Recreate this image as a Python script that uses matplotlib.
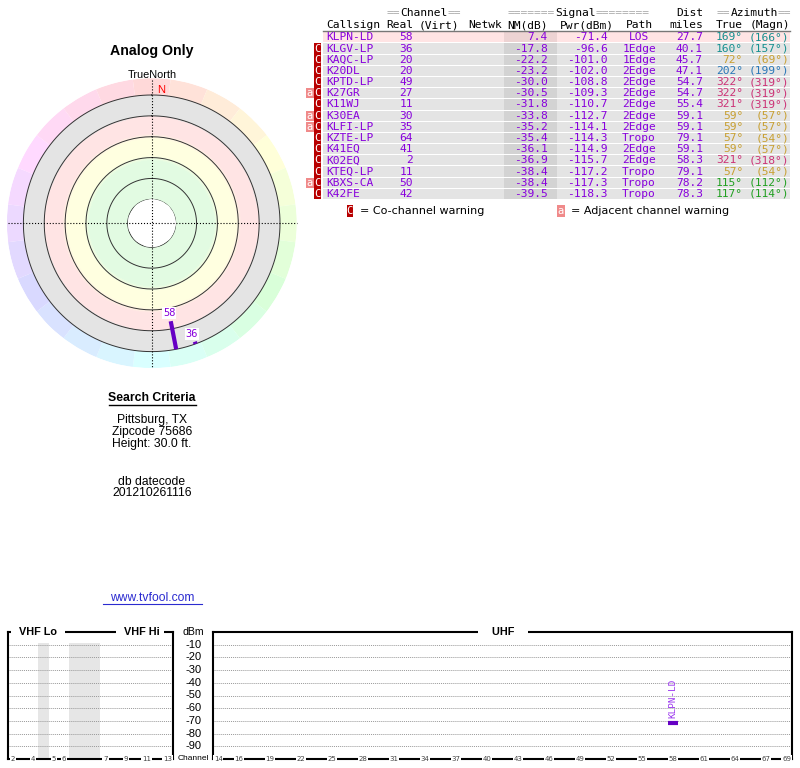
import colorsys
import numpy as np
import matplotlib.pyplot as plt
from matplotlib.colors import LinearSegmentedColormap, Normalize
from matplotlib.patches import Rectangle

# station table
callsigns = ["KLPN-LD", "KLGV-LP", "KAQC-LP", "K20DL", "KPTD-LP", "K27GR", "K11WJ", "K30EA",
             "KLFI-LP", "KZTE-LP", "K41EQ", "K02EQ", "KTEQ-LP", "KBXS-CA", "K42FE"]
real_ch = [58, 36, 20, 20, 49, 27, 11, 30, 35, 64, 41, 2, 11, 50, 42]
nm_db = [7.4, -17.8, -22.2, -23.2, -30.0, -30.5, -31.8, -33.8, -35.2, -35.4, -36.1, -36.9, -38.4, -38.4, -39.5]
pwr_dbm = [-71.4, -96.6, -101.0, -102.0, -108.8, -109.3, -110.7, -112.7, -114.1, -114.3, -114.9,
           -115.7, -117.2, -117.3, -118.3]
paths = ["LOS", "1Edge", "1Edge", "2Edge", "2Edge", "2Edge", "2Edge", "2Edge", "2Edge", "Tropo",
         "2Edge", "2Edge", "Tropo", "Tropo", "Tropo"]
dist_mi = [27.7, 40.1, 45.7, 47.1, 54.7, 54.7, 55.4, 59.1, 59.1, 79.1, 59.1, 58.3, 79.1, 78.2, 78.3]
az_true = [169, 160, 72, 202, 322, 322, 321, 59, 59, 57, 59, 321, 57, 115, 117]
az_magn = [166, 157, 69, 199, 319, 319, 319, 57, 57, 54, 57, 318, 54, 112, 114]
co_chan = [False] + [True] * 14
adj_chan = [False, False, False, False, False, True, False, True, True, False, False, False, False, True, False]

vhf_labels = [2, 4, 5, 6, 7, 9, 11, 13]
uhf_labels = [14, 16, 19, 22, 25, 28, 31, 34, 37, 40, 43, 46, 49, 52, 55, 58, 61, 64, 67, 69]
dbm_ticks = [-10, -20, -30, -40, -50, -60, -70, -80, -90]

W, H = 800, 768
PURPLE = '#8800dd'
BAR = '#6600c4'
mono = 'DejaVu Sans Mono'
sans = 'Liberation Sans'

fig = plt.figure(figsize=(8, 7.68), dpi=100)


def box(x0, y0, x1, y1):
    return [x0 / W, 1 - y1 / H, (x1 - x0) / W, (y1 - y0) / H]


def az_color(a):
    if a < 30 or a >= 300:
        return '#cc3377'
    if a < 100:
        return '#c8a032'
    if a < 150:
        return '#22a022'
    if a < 190:
        return '#169090'
    return '#2a78b8'


# pixel overlay on top of everything
pg = fig.add_axes([0, 0, 1, 1])
pg.set_xlim(0, W)
pg.set_ylim(H, 0)
pg.axis('off')
pg.set_zorder(5)

# ---- radar plot ----
cx, cy, R = 151.7, 223.3, 145
pol = fig.add_axes(box(cx - R, cy - R, cx + R, cy + R), projection='polar')
pol.set_theta_zero_location('N')
pol.set_theta_direction(-1)
pol.set_rorigin(-23)
pol.set_ylim(0, 116)
pol.axis('off')

stops = [(0, '#e2fbe2'), (37, '#e2fbe2'), (42, '#ffffe0'), (58, '#ffffe0'), (63, '#ffe4e4'),
         (79.4, '#ffe4e4'), (80.6, '#e4e4e4'), (100, '#e4e4e4')]
cmap = LinearSegmentedColormap.from_list('bands', [(s / 100, c) for s, c in stops])
th = np.linspace(0, 2 * np.pi, 181)
rg = np.linspace(0, 100, 201)
T, Rg = np.meshgrid(th, rg)
C = 0.5 * (Rg[:-1, :-1] + Rg[1:, 1:])
pol.pcolormesh(T, Rg, C, cmap=cmap, norm=Normalize(0, 100), shading='flat')

nseg = 24
for k in range(nseg):
    col = colorsys.hsv_to_rgb(k / nseg, 0.15, 1.0)
    pol.bar(np.deg2rad(k * 360 / nseg), 16, width=np.deg2rad(360 / nseg), bottom=100,
            color=col, edgecolor='none')

for r in [0, 20, 40, 60, 80, 100]:
    pol.plot(th, np.full_like(th, r), color='#333333', lw=0.7)

NM_TOP = 80
for ch, n, a in zip(real_ch, nm_db, az_true):
    if n <= -20:
        continue
    t = np.deg2rad(a)
    pol.plot([t, t], [100, NM_TOP - n], color=BAR, lw=3, solid_capstyle='butt')
    pol.text(t, NM_TOP - n - 8, str(ch), color=PURPLE, fontsize=7.5, family=mono,
             ha='center', va='center', bbox=dict(boxstyle='square,pad=0.1', fc='white', ec='none'))

# crosshair
pg.plot([cx - R + 1, cx + R], [cy, cy], ':', color='k', lw=0.8)
pg.plot([cx, cx], [cy - R + 2, cy + R], ':', color='k', lw=0.8)

pg.text(152, 51, 'Analog Only', family=sans, fontsize=10.2, fontweight='bold', ha='center', va='center')
pg.text(152, 75, 'TrueNorth', family=sans, fontsize=7.8, ha='center', va='center')
pg.text(161, 90, 'N', family=sans, fontsize=8, color='red', ha='center', va='center')

# ---- search criteria ----
pg.text(152, 398, 'Search Criteria', family=sans, fontsize=8.8, fontweight='bold', ha='center', va='center')
pg.plot([108.5, 195.5], [405, 405], color='k', lw=1)
for y, s in [(420, 'Pittsburg, TX'), (432.5, 'Zipcode 75686'), (444.5, 'Height: 30.0 ft.'),
             (482, 'db datecode'), (493.5, '201210261116')]:
    pg.text(152, y, s, family=sans, fontsize=8.7, ha='center', va='center')
pg.text(152, 598, 'www.tvfool.com', family=sans, fontsize=8.7, color='#2b2bd0', ha='center', va='center')
pg.plot([102.5, 201.5], [604, 604], color='#2b2bd0', lw=0.8)

# ---- table ----
fs = 8.1
cw = 6.77
gray_eq = '#aaaaaa'
for x, s, lead, tail in [(387, 'Channel', 2, 2), (508, 'Signal', 7, 8), (717, 'Azimuth', 2, 2)]:
    pg.text(x, 13.5, '=' * lead, family=mono, fontsize=fs, color=gray_eq, ha='left', va='center')
    pg.text(x + lead * cw, 13.5, s, family=mono, fontsize=fs, color='k', ha='left', va='center')
    pg.text(x + (lead + len(s)) * cw, 13.5, '=' * tail, family=mono, fontsize=fs, color=gray_eq,
            ha='left', va='center')
pg.text(703, 13.5, 'Dist', family=mono, fontsize=fs, ha='right', va='center')

hdr = [(326, 'Callsign', 'left'), (413, 'Real', 'right'), (419, '(Virt)', 'left'), (468, 'Netwk', 'left'),
       (548, 'NM(dB)', 'right'), (614, 'Pwr(dBm)', 'right'), (639, 'Path', 'center'),
       (703, 'miles', 'right'), (743, 'True', 'right'), (790, '(Magn)', 'right')]
for x, s, ha in hdr:
    pg.text(x, 25, s, family=mono, fontsize=fs, ha=ha, va='center')
pg.plot([323, 790], [30.5, 30.5], color='#777777', lw=1)

y0, rh = 37.4, 11.18
for i in range(len(callsigns)):
    y = y0 + i * rh
    pos = nm_db[i] > 0
    pg.add_patch(Rectangle((323, y - 5.1), 467, 10.2, fc='#ffe4e4' if pos else '#e4e4e4', ec='none'))
    pg.add_patch(Rectangle((504, y - 5.1), 53, 10.2, fc='k', alpha=0.07, ec='none'))
    if co_chan[i]:
        pg.add_patch(Rectangle((313.5, y - 5.6), 7, rh, fc='#b80000', ec='none'))
        pg.text(317, y, 'C', family=mono, fontsize=7.5, color='white', ha='center', va='center')
    if adj_chan[i]:
        pg.add_patch(Rectangle((306, y - 5), 7.5, 10, fc='#f08a8a', ec='none'))
        pg.text(309.7, y, 'a', family=mono, fontsize=7.5, color='white', ha='center', va='center')
    row = [(326, callsigns[i], 'left', PURPLE), (413, str(real_ch[i]), 'right', PURPLE),
           (548, f'{nm_db[i]:.1f}', 'right', PURPLE), (608, f'{pwr_dbm[i]:.1f}', 'right', PURPLE),
           (639, paths[i], 'center', PURPLE), (703, f'{dist_mi[i]:.1f}', 'right', PURPLE),
           (743, f'{az_true[i]}°', 'right', az_color(az_true[i])),
           (789, f'({az_magn[i]}°)', 'right', az_color(az_true[i]))]
    for x, s, ha, c in row:
        pg.text(x, y, s, family=mono, fontsize=fs, ha=ha, va='center', color=c)

# legend
pg.add_patch(Rectangle((346.5, 204.5), 6.5, 12, fc='#b80000', ec='none'))
pg.text(349.7, 210.5, 'C', family=mono, fontsize=7.5, color='white', ha='center', va='center')
pg.text(360, 210.5, '= Co-channel warning', family='DejaVu Sans', fontsize=8, ha='left', va='center')
pg.add_patch(Rectangle((557, 204.5), 7.5, 12, fc='#f08a8a', ec='none'))
pg.text(560.7, 210.5, 'a', family=mono, fontsize=7.5, color='white', ha='center', va='center')
pg.text(571, 210.5, '= Adjacent channel warning', family='DejaVu Sans', fontsize=8, ha='left', va='center')

# ---- spectrum ----
def vhf_slot(ch):
    if ch <= 4:
        return ch - 2
    if ch <= 6:
        return ch - 1
    return ch + 2


vx = fig.add_axes(box(7.5, 632, 172.5, 759))
vx.set_xlim(-0.5, 15.5)
ux = fig.add_axes(box(213, 632, 792, 759))
ux.set_xlim(13.5, 69.5)
for ax in (vx, ux):
    ax.set_ylim(-100, 0)
    ax.set_xticks([])
    ax.set_yticks([])
    for sp in ax.spines.values():
        sp.set_linewidth(1.5)
    for v in dbm_ticks:
        ax.axhline(v, color='#999999', lw=0.7, ls=(0, (1, 1)))
vx.axvspan(2.5, 3.5, ymax=0.91, color='#e6e6e6', lw=0)
vx.axvspan(5.5, 8.5, ymax=0.91, color='#e6e6e6', lw=0)

lab_box = dict(boxstyle='square,pad=0.12', fc='white', ec='none')
for ch in vhf_labels:
    vx.text(vhf_slot(ch), -100, str(ch), fontsize=5, color='#444444', family='DejaVu Sans',
            ha='center', va='center', bbox=lab_box, clip_on=False)
for ch in uhf_labels:
    ux.text(ch, -100, str(ch), fontsize=5, color='#444444', family='DejaVu Sans',
            ha='center', va='center', bbox=lab_box, clip_on=False)

for cs, ch, p, n in zip(callsigns, real_ch, pwr_dbm, nm_db):
    if n > 0 and ch >= 14:
        ux.plot([ch - 0.45, ch + 0.45], [p, p], color=BAR, lw=3, solid_capstyle='butt')
        ux.text(ch, p + 4, cs, rotation=90, color='#9933ee', fontsize=6.7, family=mono,
                ha='center', va='bottom')

top_box = dict(boxstyle='square,pad=0.15', fc='white', ec='none')
pg.text(38, 632, '  VHF Lo  ', family=sans, fontsize=7.8, fontweight='bold', ha='center', va='center', bbox=top_box)
pg.text(140, 632, '  VHF Hi ', family=sans, fontsize=7.8, fontweight='bold', ha='center', va='center', bbox=top_box)
pg.text(503, 632, '    UHF    ', family=sans, fontsize=7.8, fontweight='bold', ha='center', va='center', bbox=top_box)
pg.text(193.5, 632, 'dBm', family=sans, fontsize=7.6, ha='center', va='center')
for v in dbm_ticks:
    pg.text(193.5, 632 - v * 1.27, str(v), family=sans, fontsize=8, ha='center', va='center')
pg.text(193, 758, 'Channel', family=sans, fontsize=6, ha='center', va='center')

fig.savefig('out.png', dpi=100)
